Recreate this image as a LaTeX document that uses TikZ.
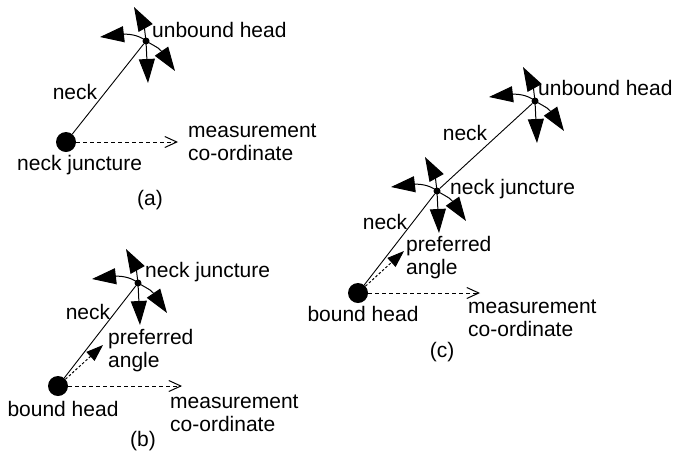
\documentclass[tikz,border=0pt]{standalone}
\usepackage{fontspec}
\setmainfont{Liberation Sans}
\usetikzlibrary{arrows.meta,calc}
\tikzset{
  lbl/.style={font=\fontsize{21}{23}\selectfont, inner sep=0pt, align=left},
  bigdot/.style={circle, fill=black, inner sep=0pt, minimum size=20pt},
  smalldot/.style={circle, fill=black, inner sep=0pt, minimum size=7pt},
  neckline/.style={line width=0.9pt},
  hd/.style={line width=1pt, -{Triangle[length=24pt,width=16pt]}},
  pref/.style={line width=1pt, dash pattern=on 2.5pt off 2pt, -{Triangle[length=17pt,width=12pt]}},
  meas/.style={line width=1pt, dash pattern=on 4pt off 3pt, -{Straight Barb[length=12pt,width=11pt]}}
}
\newcommand\motorarrows[1]{%
  \coordinate (#1L) at ($(#1)+(-46,-4)$);
  \coordinate (#1U) at ($(#1)+(-12,-34)$);
  \coordinate (#1D) at ($(#1)+(2,42)$);
  \coordinate (#1R) at ($(#1)+(29,30)$);
  \draw[hd] (#1.center) .. controls ($(#1)+(-8,-7)$) and ($(#1)+(-20,-7)$) .. (#1L);
  \draw[hd] (#1.center) .. controls ($(#1)+(-2,-16)$) .. (#1U);
  \draw[hd] (#1.center) -- (#1D);
  \draw[hd] (#1.center) .. controls ($(#1)+(14,8)$) .. (#1R);
}
\begin{document}
\begin{tikzpicture}[x=1pt,y=-1pt]
\useasboundingbox (0,0) rectangle (674,456);
% ---------- (a)
\node[bigdot] (a0) at (66,142) {};
\node[smalldot] (a1) at (146,41) {};
\draw[neckline] (a0) -- (a1);
\motorarrows{a1}
\coordinate (a0M) at ($(a0)+(112,0)$);
\draw[meas] (a0) -- (a0M);
\node[lbl, anchor=west] (aUH) at (152,30) {unbound head};
\node[lbl] (aN) at (75,92) {neck};
\node[lbl, anchor=west] (aNJ) at (17,165) {neck juncture};
\node[lbl, anchor=west] (aM) at (188,142) {measurement\\co-ordinate};
\node[lbl] (aCap) at (150,200) {(a)};
% ---------- (b)
\node[bigdot] (b0) at (58,386) {};
\node[smalldot] (b1) at (138,283) {};
\draw[neckline] (b0) -- (b1);
\motorarrows{b1}
\coordinate (b0P) at ($(b0)+(45,-41)$);
\draw[pref] (b0) -- (b0P);
\coordinate (b0M) at ($(b0)+(124,0)$);
\draw[meas] (b0) -- (b0M);
\node[lbl, anchor=west] (bNJ) at (145,272) {neck juncture};
\node[lbl] (bN) at (88,312) {neck};
\node[lbl, anchor=west] (bP) at (108,351) {preferred\\angle};
\node[lbl] (bBH) at (63,409) {bound head};
\node[lbl, anchor=west] (bM) at (170,413) {measurement\\co-ordinate};
\node[lbl] (bCap) at (143,441) {(b)};
% ---------- (c)
\node[bigdot] (c0) at (358,293) {};
\node[smalldot] (c1) at (437,191) {};
\node[smalldot] (c2) at (535,101) {};
\draw[neckline] (c0) -- (c1);
\draw[neckline] (c1) -- (c2);
\motorarrows{c1}
\motorarrows{c2}
\coordinate (c0P) at ($(c0)+(46,-42)$);
\draw[pref] (c0) -- (c0P);
\coordinate (c0M) at ($(c0)+(122,0)$);
\draw[meas] (c0) -- (c0M);
\node[lbl, anchor=west] (cUH) at (538,88) {unbound head};
\node[lbl] (cN2) at (465,133) {neck};
\node[lbl, anchor=west] (cNJ) at (450,189) {neck juncture};
\node[lbl] (cN1) at (385,222) {neck};
\node[lbl, anchor=west] (cP) at (406,258) {preferred\\angle};
\node[lbl] (cBH) at (363,314) {bound head};
\node[lbl, anchor=west] (cM) at (468,318) {measurement\\co-ordinate};
\node[lbl] (cCap) at (442,352) {(c)};
\end{tikzpicture}
\end{document}
